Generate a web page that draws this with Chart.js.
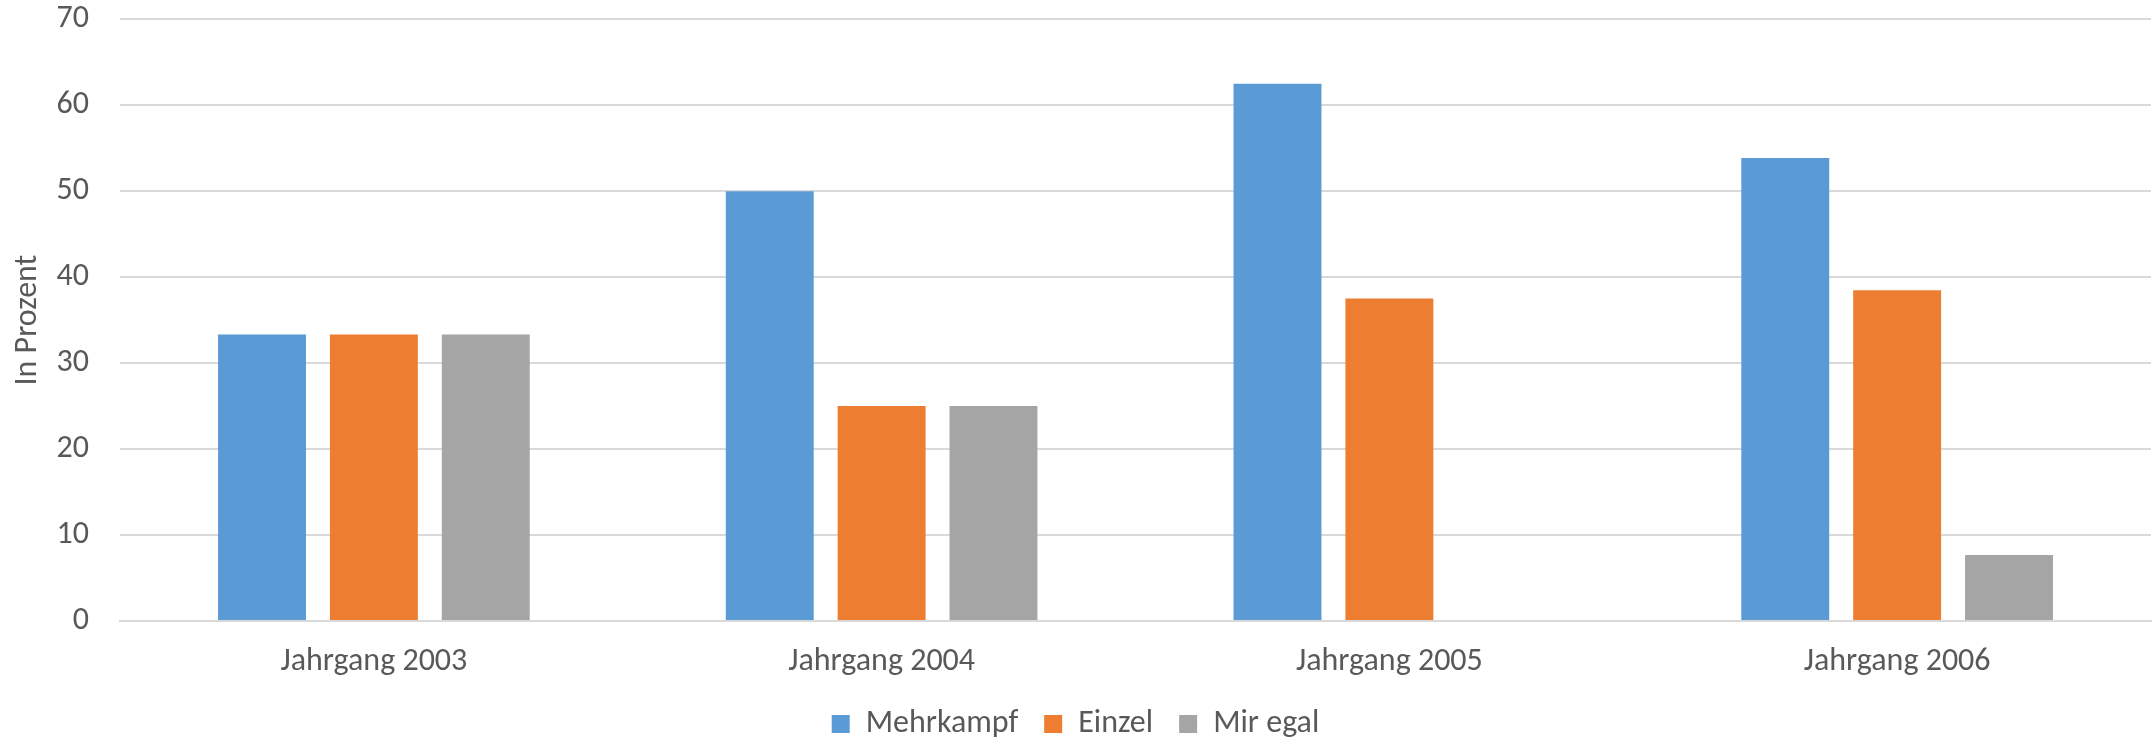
<!DOCTYPE html>
<html>
<head>
<meta charset="utf-8">
<script src="https://cdn.jsdelivr.net/npm/chart.js@4"></script>
<style>
  html, body { margin: 0; padding: 0; background: #ffffff; }
  #wrap { width: 2153px; height: 738px; }
</style>
</head>
<body>
<div id="wrap"><canvas id="c" width="2153" height="738"></canvas></div>
<script>
// Kategorien und Werte (Anteile in Prozent)
const categories = ['Jahrgang 2003', 'Jahrgang 2004', 'Jahrgang 2005', 'Jahrgang 2006'];
const mehrkampf = [33.33, 50, 62.5, 53.85];
const einzel = [33.33, 25, 37.5, 38.46];
const mirEgal = [33.33, 25, 0, 7.69];
const seriesNames = ['Mehrkampf', 'Einzel', 'Mir egal'];
const yTitle = 'In Prozent';
const yMin = 0, yMax = 70, yStep = 10;

const textColor = '#595959';
const gridColor = '#d9d9d9';
const fontFamily = 'Carlito, Lato, "Open Sans", sans-serif';

// Schriftgröße so wählen, dass eine Kategoriebeschriftung etwa 187 px breit ist
const probe = document.createElement('canvas').getContext('2d');
probe.font = '100px ' + fontFamily;
const fontSize = Math.round(187 / probe.measureText(categories[0]).width * 1000) / 10;

const ctx = document.getElementById('c').getContext('2d');
const chart = new Chart(ctx, {
  type: 'bar',
  data: {
    labels: categories,
    datasets: [
      { label: seriesNames[0], data: mehrkampf, backgroundColor: '#5B9BD5' },
      { label: seriesNames[1], data: einzel, backgroundColor: '#ED7D31' },
      { label: seriesNames[2], data: mirEgal, backgroundColor: '#A5A5A5' }
    ]
  },
  options: {
    responsive: false,
    devicePixelRatio: 1,
    animation: false,
    layout: { padding: { top: 0, right: 2, left: 0, bottom: -12 } },
    datasets: {
      bar: { categoryPercentage: 0.661, barPercentage: 0.786 }
    },
    scales: {
      x: {
        afterFit: (scale) => { scale.height = 61; },
        grid: { display: false, drawTicks: false },
        border: { display: true, color: gridColor, width: 2 },
        ticks: { color: textColor, font: { family: fontFamily, size: fontSize, lineHeight: 1.2 }, padding: 22, maxRotation: 0 }
      },
      y: {
        min: yMin, max: yMax,
        afterFit: (scale) => { scale.width = 120; },
        grid: { color: gridColor, lineWidth: 2, drawTicks: true, tickLength: 31, tickColor: 'rgba(0,0,0,0)' },
        border: { display: false },
        ticks: { stepSize: yStep, color: textColor, font: { family: fontFamily, size: fontSize }, padding: 0 },
        title: { display: true, text: yTitle, color: textColor, font: { family: fontFamily, size: fontSize }, padding: { top: 9, bottom: 0 } }
      }
    },
    plugins: {
      legend: {
        position: 'bottom',
        labels: { color: textColor, font: { family: fontFamily, size: fontSize }, boxWidth: 18, boxHeight: 18, padding: 26 }
      },
      tooltip: { enabled: false }
    }
  }
});
</script>
</body>
</html>
